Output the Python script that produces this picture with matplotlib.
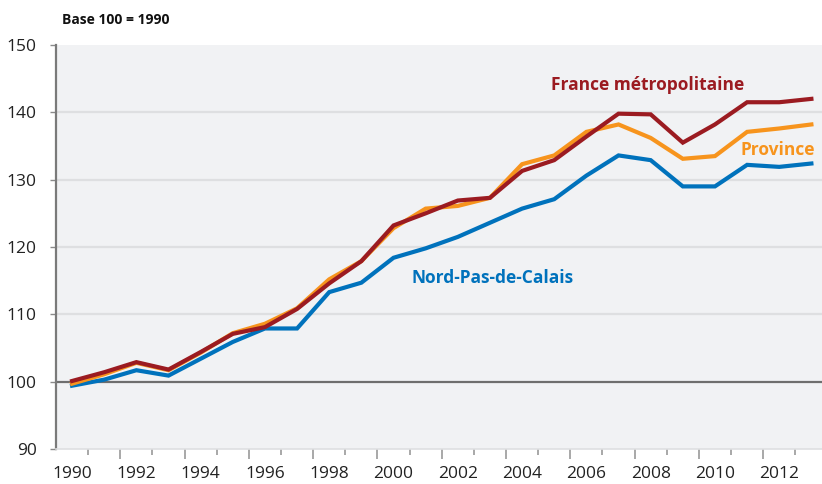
import matplotlib
matplotlib.use("Agg")
import matplotlib.pyplot as plt
from matplotlib.ticker import FixedLocator

years = list(range(1990, 2014))
france = [100.1, 101.4, 102.9, 101.8, 104.4, 107.1, 108.1, 110.8, 114.6, 117.9,
          123.2, 125.0, 126.9, 127.3, 131.3, 132.9, 136.4, 139.8, 139.7, 135.5,
          138.2, 141.5, 141.5, 142.0]
province = [99.7, 101.1, 102.8, 101.7, 104.3, 107.2, 108.6, 110.9, 115.2, 117.9,
            122.8, 125.7, 126.1, 127.3, 132.3, 133.6, 137.1, 138.2, 136.2, 133.1,
            133.5, 137.1, 137.6, 138.2]
npdc = [99.4, 100.3, 101.7, 100.9, 103.4, 105.9, 107.9, 107.9, 113.3, 114.7,
        118.4, 119.8, 121.5, 123.6, 125.7, 127.1, 130.6, 133.6, 132.9, 129.0,
        129.0, 132.2, 131.9, 132.4]
yticks = [90, 100, 110, 120, 130, 140, 150]
xlabels = list(range(1990, 2013, 2))

c_fr = "#9B1B21"
c_pr = "#F7941D"
c_np = "#0072BC"

plt.rcParams['font.family'] = ['Open Sans', 'DejaVu Sans']

fig = plt.figure(figsize=(8.22, 4.84), dpi=100)
ax = fig.add_axes([56/822, 1-449/484, 1-56/822, (449-45)/484])
ax.set_facecolor("#F1F2F4")

for v in [110, 120, 130, 140]:
    ax.axhline(v, color="#DEDFE1", lw=1.6, zorder=1)
ax.axhline(100, color="#6E6E6E", lw=1.6, zorder=2)

ax.plot(years, npdc, color=c_np, lw=3.0, zorder=3, solid_joinstyle='miter')
ax.plot(years, province, color=c_pr, lw=3.0, zorder=4, solid_joinstyle='miter')
ax.plot(years, france, color=c_fr, lw=3.0, zorder=5, solid_joinstyle='miter')

ax.set_ylim(90, 150)
ax.set_xlim(1989.5, 2013.33)

for s in ["top", "right"]:
    ax.spines[s].set_visible(False)
ax.spines["left"].set_color("#7A7A7A")
ax.spines["left"].set_linewidth(1.6)
ax.spines["bottom"].set_color("#DEDFE1")
ax.spines["bottom"].set_linewidth(1.2)

ax.set_yticks(yticks)
ax.set_yticklabels([str(v) for v in yticks])
ax.tick_params(axis='y', length=4, width=1, color="#8A8A8A", pad=10,
               labelsize=12.5, labelcolor="#222222")

ax.set_xticks(xlabels)
ax.set_xticklabels([str(v) for v in xlabels])
ax.tick_params(axis='x', which='major', length=0, pad=12, labelsize=12.5,
               labelcolor="#222222")
ax.xaxis.set_minor_locator(FixedLocator([y + 0.5 for y in years[:-1] if y % 2 == 0]))
ax.tick_params(axis='x', which='minor', length=4, width=1.2, color="#9A9A9A")

sec = ax.secondary_xaxis('bottom')
sec.set_xticks([y + 0.5 for y in years[:-1] if y % 2 == 1])
sec.set_xticklabels([])
sec.tick_params(length=7, width=1.2, color="#9A9A9A")
sec.spines["bottom"].set_visible(False)

fig.text(648/822, 1-85/484, "France métropolitaine", fontsize=12.5, fontweight='bold',
         color=c_fr, ha='center', va='center')
fig.text(778/822, 1-150/484, "Province", fontsize=12.5, fontweight='bold', color=c_pr,
         ha='center', va='center')
fig.text(493/822, 1-278/484, "Nord-Pas-de-Calais", fontsize=12.5, fontweight='bold',
         color=c_np, ha='center', va='center')
fig.text(62/822, 1-20/484, "Base 100 = 1990", fontsize=10, fontweight='bold',
         color="#111111", ha='left', va='center')

fig.savefig("out.png", dpi=100)
